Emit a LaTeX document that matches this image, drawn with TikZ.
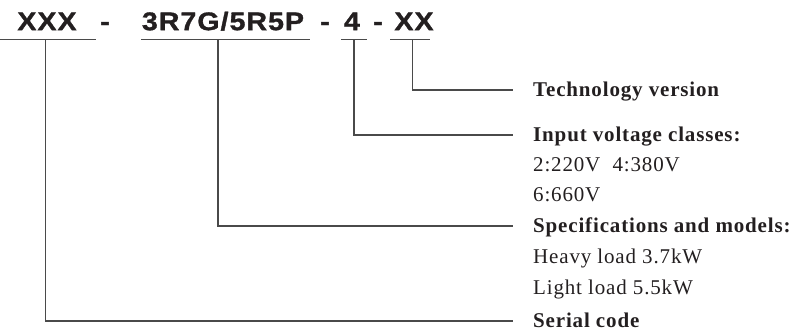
\documentclass[tikz,border=0pt]{standalone}
\usepackage{fontspec}
\setmainfont{Liberation Serif}
\newfontfamily\codefont{Liberation Sans}[FakeStretch=1.12,LetterSpace=4,FakeBold=1.2]
\newfontfamily\labfont{Liberation Serif}[LetterSpace=4]
\definecolor{ink}{HTML}{231F20}
\definecolor{wire}{HTML}{4A4A4A}
\tikzset{
  code/.style={inner sep=0pt,text height=18.3pt,text depth=0pt,text=ink,
    font=\codefont\bfseries\fontsize{25.5}{28}\selectfont},
  lab/.style={anchor=west,inner sep=0pt,text height=13.9pt,text depth=0pt,text=ink,
    font=\labfont\fontsize{21}{24}\selectfont},
  head/.style={lab,font=\labfont\bfseries\fontsize{21}{24}\selectfont},
  wireline/.style={draw=wire,line width=1.15pt},
}
\begin{document}
\begin{tikzpicture}[x=1pt,y=-1pt]
\useasboundingbox (0,0) rectangle (802,336);
% code segments
\node[code] (xxx) at (47,21) {XXX};
\node[code] (d1) at (105,21) {-};
\node[code] (spec) at (223,21) {3R7G/5R5P};
\node[code] (d2) at (325,21) {-};
\node[code] (volt) at (352,21) {4};
\node[code] (d3) at (378,21) {-};
\node[code] (ver) at (414,21) {XX};
% underlines
\coordinate (u1a) at (0,39.5);   \coordinate (u1b) at (96,39.5);
\coordinate (u2a) at (141,39.5); \coordinate (u2b) at (310,39.5);
\coordinate (u3a) at (341,39.5); \coordinate (u3b) at (367,39.5);
\coordinate (u4a) at (390,39.5); \coordinate (u4b) at (430,39.5);
\draw[wireline] (u1a) -- (u1b);
\draw[wireline] (u2a) -- (u2b);
\draw[wireline] (u3a) -- (u3b);
\draw[wireline] (u4a) -- (u4b);
% tap points
\coordinate (t1) at (45.5,39.5);
\coordinate (t2) at (218,39.5);
\coordinate (t3) at (354,39.5);
\coordinate (t4) at (412.5,39.5);
% labels
\node[head] (tech) at (533,90) {Technology version};
\node[head] (inp) at (533,135) {Input voltage classes:};
\node[lab] (v1) at (533,165) {2:220V\ \ 4:380V};
\node[lab] (v2) at (533,195) {6:660V};
\node[head] (spm) at (533,226) {Specifications and models:};
\node[lab] (s1) at (533,257) {Heavy load 3.7kW};
\node[lab] (s2) at (533,288) {Light load 5.5kW};
\node[head] (ser) at (533,321) {Serial code};
% connectors
\draw[wireline] (t4) |- ([xshift=-20pt]tech.west);
\draw[wireline] (t3) |- ([xshift=-20pt]inp.west);
\draw[wireline] (t2) |- ([xshift=-20pt]spm.west);
\draw[wireline] (t1) |- ([xshift=-20pt]ser.west);
\end{tikzpicture}
\end{document}
